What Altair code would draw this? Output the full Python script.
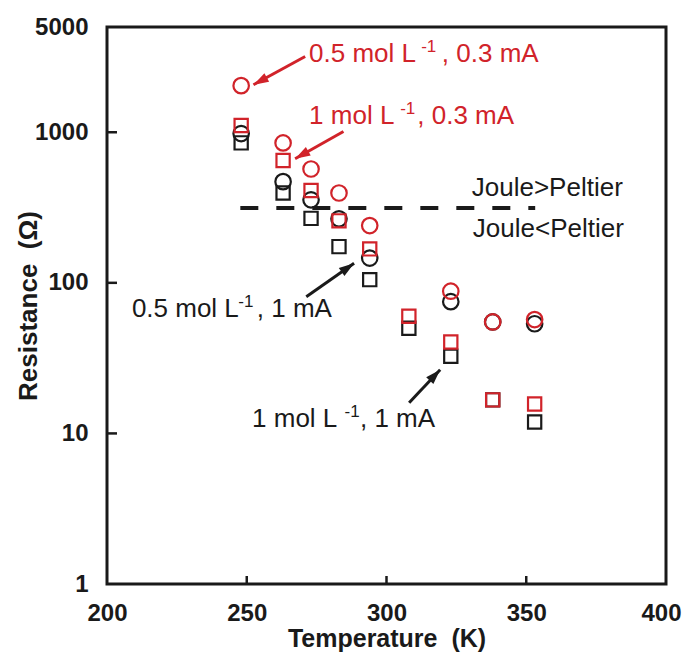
import altair as alt
import pandas as pd

# ---- data ----
temps = [248, 263, 273, 283, 294, 308, 323, 338, 353]
r_05mol_03mA = [2040, 850, 570, 395, 240, None, 88, 55, 57]      # red circles
r_1mol_03mA = [1110, 650, 410, 258, 168, 60, 40.5, 16.7, 15.7]   # red squares
r_05mol_1mA = [980, 470, 356, 266, 146, None, 75, 55, 53.5]      # black circles
r_1mol_1mA = [850, 395, 268, 174, 105, 50, 32.5, 16.7, 11.9]     # black squares

x_ticks = [200, 250, 300, 350, 400]
y_ticks = [1, 10, 100, 1000, 5000]

joule_T = [247.7, 353.2]
joule_R = [314, 314]

RED = "#d1232a"
BLACK = "#1a1a1a"
FONT = "Liberation Sans"

# annotation text pieces (main text and superscripts)
main_text = ["0.5 mol L", ", 0.3 mA", "1 mol L", ", 0.3 mA", "Joule>Peltier", "Joule<Peltier",
             "0.5 mol L", ", 1 mA", "1 mol L", ", 1 mA"]
main_T = [272.3, 319.8, 272.3, 311.0, 330.5, 330.9, 208.9, 253.6, 251.9, 290.5]
main_R = [2924, 2924, 1130, 1130, 375, 201, 59.3, 59.3, 11.0, 11.0]
main_col = [RED, RED, RED, RED, BLACK, BLACK, BLACK, BLACK, BLACK, BLACK]

sup_text = ["-1", "-1", "-1", "-1"]
sup_T = [312.4, 304.9, 247.0, 285.0]
sup_R = [2924, 1130, 59.3, 11.0]
sup_col = [RED, RED, BLACK, BLACK]

# arrows: start -> tip
arr_T1 = [270.9, 284.6, 271.3, 308.1]
arr_R1 = [3187, 1012, 80.9, 16.0]
arr_T2 = [252.4, 267.3, 288.4, 319.2]
arr_R2 = [2068, 667, 134.9, 26.5]
arr_col = [RED, RED, BLACK, BLACK]
arr_angle = [241.4, 240.5, 55.1, 43.2]

# ---- tables ----
rows = []
for name, vals, col, shp in [
    ("0.5 mol/L, 1 mA", r_05mol_1mA, BLACK, "circle"),
    ("1 mol/L, 1 mA", r_1mol_1mA, BLACK, "square"),
    ("1 mol/L, 0.3 mA", r_1mol_03mA, RED, "square"),
    ("0.5 mol/L, 0.3 mA", r_05mol_03mA, RED, "circle"),
]:
    for t, v in zip(temps, vals):
        if v is not None:
            rows.append({"T": t, "R": v, "series": name, "color": col, "shape": shp})
pts = pd.DataFrame(rows)

joule = pd.DataFrame({"T": joule_T, "R": joule_R})
mains = pd.DataFrame({"T": main_T, "R": main_R, "text": main_text, "color": main_col})
sups = pd.DataFrame({"T": sup_T, "R": sup_R, "text": sup_text, "color": sup_col})
arrows = pd.DataFrame({"T": arr_T1, "R": arr_R1, "T2": arr_T2, "R2": arr_R2,
                       "color": arr_col, "angle": arr_angle})
heads = pd.DataFrame({"T": arr_T2, "R": arr_R2, "color": arr_col, "angle": arr_angle})
xt = pd.DataFrame({"T": x_ticks[1:-1]})
yt = pd.DataFrame({"R": y_ticks[1:-1]})

x_scale = alt.Scale(domain=[x_ticks[0], x_ticks[-1]], nice=False)
y_scale = alt.Scale(type="log", domain=[y_ticks[0], y_ticks[-1]], nice=False)

x_axis = alt.Axis(values=x_ticks, title="Temperature\u00a0\u00a0(K)", format="d",
                  labelFlush=False, labelOverlap=False, labelPadding=17,
                  labelOffset={"condition": {"test": f"datum.value == {x_ticks[-1]}", "value": -5},
                               "value": 0},
                  titleY=54, titleBaseline="middle", titleFontSize=25)
y_axis = alt.Axis(values=y_ticks, title="Resistance\u00a0\u00a0(\u03a9)", format="d",
                  labelFlush=False, labelOverlap=False, labelPadding=19,
                  titleX=-79, titleY=278.5, titleBaseline="middle", titleFontSize=26)


def X(f="T"):
    return alt.X(f, type="quantitative", scale=x_scale, axis=x_axis)


def Y(f="R"):
    return alt.Y(f, type="quantitative", scale=y_scale, axis=y_axis)


points = alt.Chart(pts).mark_point(filled=False, strokeWidth=2.2, opacity=1).encode(
    x=X(), y=Y(),
    color=alt.Color("color:N", scale=None),
    shape=alt.Shape("shape:N", scale=None),
    size=alt.condition("datum.shape == 'circle'", alt.value(240), alt.value(175)),
)

dashed = alt.Chart(joule).mark_line(strokeDash=[18, 18], strokeWidth=4, color=BLACK).encode(
    x=X(), y=Y()
)

xtick_rules = alt.Chart(xt).mark_rule(color=BLACK, strokeWidth=2.5).encode(
    x=X(), y=alt.value(557), y2=alt.value(549)
)
ytick_rules = alt.Chart(yt).mark_rule(color=BLACK, strokeWidth=2.5).encode(
    y=Y(), x=alt.value(0), x2=alt.value(10)
)

arrow_lines = alt.Chart(arrows).mark_rule(strokeWidth=3).encode(
    x=X(), y=Y(), x2="T2:Q", y2="R2:Q",
    color=alt.Color("color:N", scale=None),
)
arrow_heads = alt.Chart(heads).mark_point(
    filled=True, opacity=1, size=230, strokeWidth=0,
    shape="M0,0L-0.65,2L0.65,2Z",
).encode(
    x=X(), y=Y(),
    color=alt.Color("color:N", scale=None),
    angle=alt.Angle("angle:Q", scale=None),
)

main_labels = alt.Chart(mains).mark_text(
    align="left", baseline="alphabetic", fontSize=26, font=FONT
).encode(x=X(), y=Y(), text="text:N", color=alt.Color("color:N", scale=None))

sup_labels = alt.Chart(sups).mark_text(
    align="left", baseline="alphabetic", fontSize=17, font=FONT, dy=-10.5
).encode(x=X(), y=Y(), text="text:N", color=alt.Color("color:N", scale=None))

chart = alt.layer(
    xtick_rules, ytick_rules, dashed, points, arrow_lines, arrow_heads, main_labels, sup_labels
).properties(
    width=559, height=557,
    autosize=alt.AutoSizeParams(type="none"),
    padding={"left": 99, "top": 19, "right": 16, "bottom": 68},
    background="white",
).configure_view(
    stroke=BLACK, strokeWidth=3
).configure_axis(
    domain=False, ticks=False, tickSize=0, grid=False,
    labelFont=FONT, labelFontWeight="bold", labelFontSize=24, labelColor=BLACK,
    titleFont=FONT, titleFontWeight="bold", titleColor=BLACK,
)

chart.save("out.html", embed_options={"renderer": "svg", "actions": False})
